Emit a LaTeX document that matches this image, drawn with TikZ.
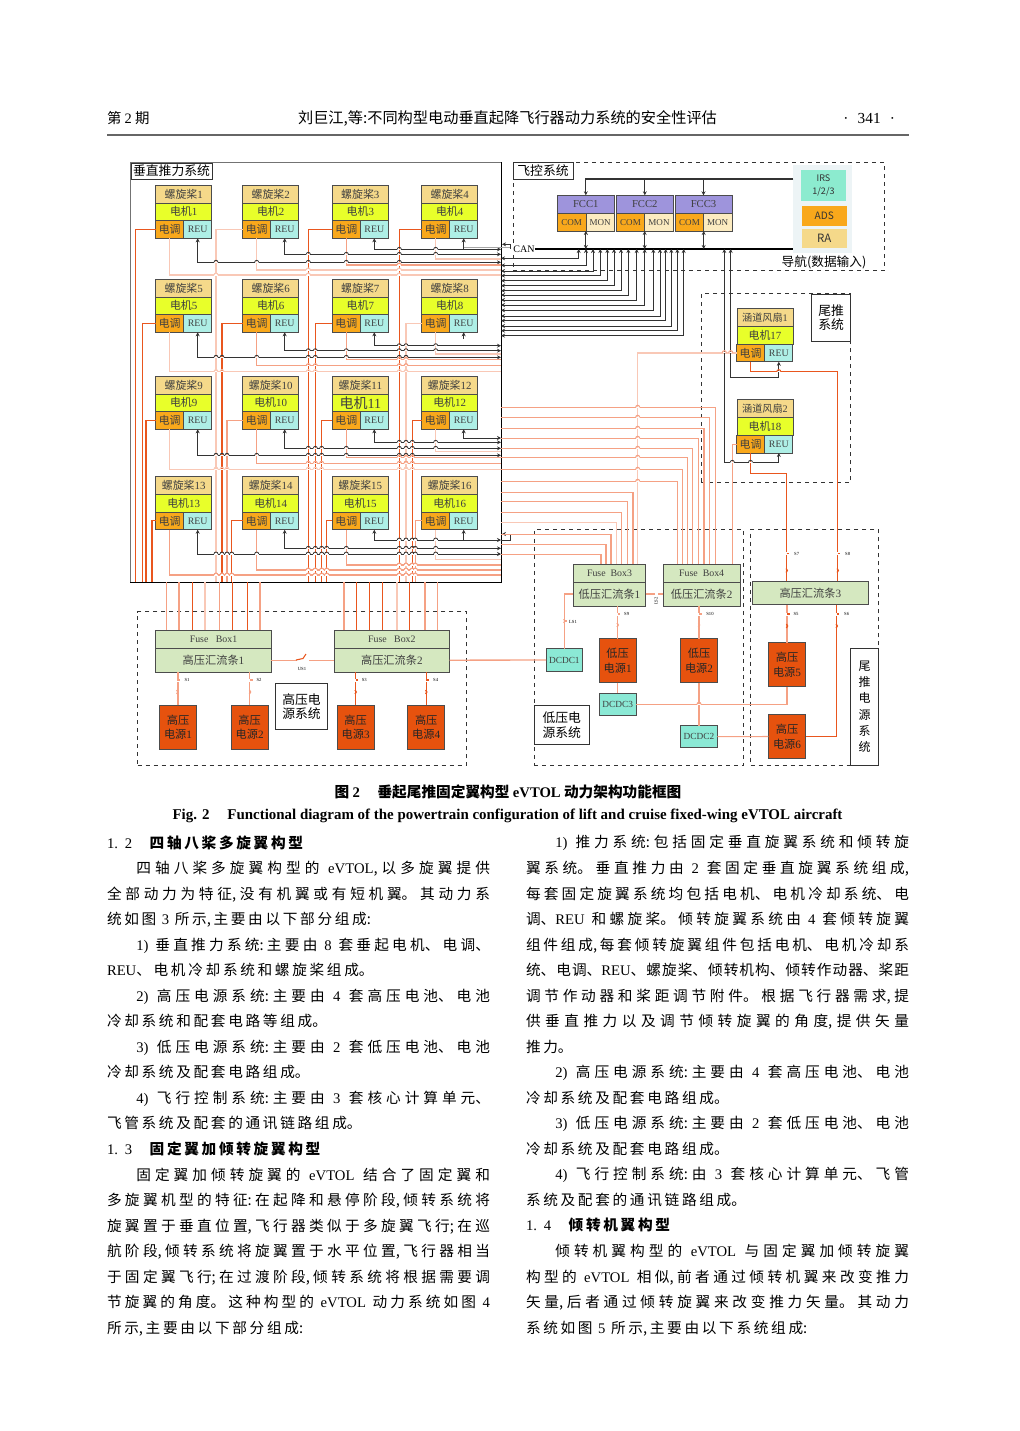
\documentclass[tikz,border=0pt]{standalone}
\usepackage{fontspec}
\setmainfont{Noto Sans CJK SC}
\newfontfamily\latinfont{Liberation Serif}
\usetikzlibrary{arrows.meta}
\XeTeXlinebreaklocale "zh"
\XeTeXlinebreakskip=0pt
\newcommand{\ltn}[1]{{\latinfont #1}}
\newcommand{\hop}[3]{\fill[white] (#1-2,#2-.7) rectangle (#1+2,#2+.7); \draw[#3] (#1-2,#2) arc[start angle=180,end angle=0,radius=1.5pt];}
\newcommand{\swmark}[4]{\fill[white] (#1-1.5,#2-1.5) rectangle (#1+1.5,#2+1.5); \draw[#4] (#1,#2)--(#1+2.5,#2); \draw[#4,line width=1pt] (#1-.6,#3-2)--(#1+.6,#3)--(#1-.6,#3+2);}
\definecolor{propcol}{HTML}{F5D98A}
\definecolor{motorcol}{HTML}{E8FF2A}
\definecolor{esccol}{HTML}{F9A81B}
\definecolor{reucol}{HTML}{AEEFE6}
\definecolor{fccol}{HTML}{9E94DC}
\definecolor{moncol}{HTML}{FCEBC0}
\definecolor{busbar}{HTML}{D5E8C0}
\definecolor{srccol}{HTML}{E6520E}
\definecolor{dcdccol}{HTML}{8BE9D5}
\definecolor{irscol}{HTML}{8CEBCF}
\definecolor{navcol}{HTML}{EDF4F6}
\definecolor{wlightcol}{HTML}{F9C8B6}
\definecolor{wsalmoncol}{HTML}{F5A184}
\definecolor{wredcol}{HTML}{E9561E}
\begin{document}
\begin{tikzpicture}[x=0.75pt,y=-0.75pt]
\tikzset{
  cell/.style={draw=black!70,line width=0.5pt,inner sep=0pt,outer sep=0pt,text=black!75,align=center,font=\fontsize{8.2}{9}\selectfont},
  propcell/.style={cell,fill=propcol,minimum width=42pt,minimum height=13.2pt},
  motorcell/.style={cell,fill=motorcol,minimum width=42pt,minimum height=13.2pt},
  esccell/.style={cell,fill=esccol,minimum width=21pt,minimum height=13.2pt},
  reucell/.style={cell,fill=reucol,minimum width=21pt,minimum height=13.2pt,font=\fontsize{7.4}{9}\latinfont},
  fcccell/.style={cell,fill=fccol,minimum width=42.75pt,minimum height=13.8pt,font=\fontsize{8}{9}\latinfont},
  comcell/.style={cell,fill=esccol,minimum width=21.3pt,minimum height=13pt,font=\fontsize{6.8}{9}\latinfont},
  moncell/.style={cell,fill=moncol,minimum width=21.3pt,minimum height=13pt,font=\fontsize{6.8}{9}\latinfont},
  fusecell/.style={cell,fill=busbar,font=\fontsize{7.4}{9}\latinfont},
  buscell/.style={cell,fill=busbar,font=\fontsize{8.4}{9}\selectfont},
  srccell/.style={cell,fill=srccol,minimum width=27.8pt,minimum height=33pt,text=black!85,font=\fontsize{8.4}{11}\selectfont},
  dcdccell/.style={cell,fill=dcdccol,minimum width=27.5pt,font=\fontsize{7}{9}\latinfont},
  navcell/.style={inner sep=0pt,outer sep=0pt,align=center,text=black!80,minimum width=33.75pt},
  sysbox/.style={draw=black!80,dashed,line width=0.5pt,inner sep=0pt,outer sep=0pt},
  syslabel/.style={draw=black!80,fill=white,line width=0.5pt,inner sep=0pt,outer sep=0pt,align=center,font=\fontsize{9.6}{11}\selectfont},
  tinylabel/.style={inner sep=0pt,font=\fontsize{3.5}{4}\latinfont},
  ctrl/.style={draw=black!80,line width=0.6pt},
  ctrlarrow/.style={ctrl,{Stealth[length=3pt,width=3pt]}-{Stealth[length=3pt,width=3pt]}},
  ctrltip/.style={ctrl,-{Stealth[length=3pt,width=3pt]}},
  wlight/.style={draw=wlightcol,line width=0.8pt},
  wsalmon/.style={draw=wsalmoncol,line width=0.8pt},
  wred/.style={draw=wredcol,line width=0.8pt},
  pagetext/.style={inner sep=0pt,outer sep=0pt},
  column/.style={pagetext,anchor=north west,text width=287.25pt,align=justify,font=\fontsize{11}{19.15}\selectfont,
    execute at begin node={\tolerance=10000\hbadness=10000\hfuzz=5pt\spaceskip=.38em plus .2em minus .2em\XeTeXlinebreakskip=2pt plus 1pt minus 2pt\relax}}
}
\useasboundingbox (0,0) rectangle (1020,1431);
% page head
\node[pagetext,anchor=west,font=\fontsize{10.8}{12}\selectfont] (n_issue) at (107,118) {第 \ltn{2} 期};
\node[pagetext,font=\fontsize{11.4}{12}\selectfont] (n_head) at (507.5,118) {刘巨江,等:不同构型电动垂直起降飞行器动力系统的安全性评估};
\node[pagetext,anchor=east,font=\fontsize{11.5}{12}\latinfont] (n_page) at (895,118) {·\hspace{.6em}341\hspace{.6em}·};
\draw[black!60,line width=0.8pt] (n_issue.west |- 0,135) -- (909,135);
% system frames
\node[draw=black,line width=0.6pt,inner sep=0pt,outer sep=0pt,minimum width=278.25pt,minimum height=315pt] (n_lift) at (315.5,372) {};
\draw[black!55,line width=0.7pt] (n_lift.south west) |- (n_lift.north east);
\node[sysbox,minimum width=246.75pt,minimum height=115.2pt] (n_hvsys) at (302.2,688.5) {};
\node[sysbox,minimum width=278.25pt,minimum height=81.5pt] (n_fcs) at (698.5,216.35) {};
\node[sysbox,minimum width=112pt,minimum height=141.75pt] (n_tail) at (776,388.2) {};
\node[sysbox,minimum width=156.75pt,minimum height=177.3pt] (n_lvsys) at (638.8,647.5) {};
\node[sysbox,minimum width=95.7pt,minimum height=177.3pt] (n_tpsys) at (814.5,647.5) {};
% rotors
\node[propcell] (n_prop1) at (183.7,194.2) {螺旋桨\ltn{1}};
\node[motorcell] (n_mot1) at (183.7,211.8) {电机\ltn{1}};
\node[esccell] (n_esc1) at (169.7,229.5) {电调};
\node[reucell] (n_reu1) at (197.7,229.5) {REU};
\node[propcell] (n_prop2) at (270.7,194.2) {螺旋桨\ltn{2}};
\node[motorcell] (n_mot2) at (270.7,211.8) {电机\ltn{2}};
\node[esccell] (n_esc2) at (256.7,229.5) {电调};
\node[reucell] (n_reu2) at (284.7,229.5) {REU};
\node[propcell] (n_prop3) at (360.3,194.2) {螺旋桨\ltn{3}};
\node[motorcell] (n_mot3) at (360.3,211.8) {电机\ltn{3}};
\node[esccell] (n_esc3) at (346.3,229.5) {电调};
\node[reucell] (n_reu3) at (374.3,229.5) {REU};
\node[propcell] (n_prop4) at (449.7,194.2) {螺旋桨\ltn{4}};
\node[motorcell] (n_mot4) at (449.7,211.8) {电机\ltn{4}};
\node[esccell] (n_esc4) at (435.7,229.5) {电调};
\node[reucell] (n_reu4) at (463.7,229.5) {REU};
\node[propcell] (n_prop5) at (183.7,288.2) {螺旋桨\ltn{5}};
\node[motorcell] (n_mot5) at (183.7,305.8) {电机\ltn{5}};
\node[esccell] (n_esc5) at (169.7,323.5) {电调};
\node[reucell] (n_reu5) at (197.7,323.5) {REU};
\node[propcell] (n_prop6) at (270.7,288.2) {螺旋桨\ltn{6}};
\node[motorcell] (n_mot6) at (270.7,305.8) {电机\ltn{6}};
\node[esccell] (n_esc6) at (256.7,323.5) {电调};
\node[reucell] (n_reu6) at (284.7,323.5) {REU};
\node[propcell] (n_prop7) at (360.3,288.2) {螺旋桨\ltn{7}};
\node[motorcell] (n_mot7) at (360.3,305.8) {电机\ltn{7}};
\node[esccell] (n_esc7) at (346.3,323.5) {电调};
\node[reucell] (n_reu7) at (374.3,323.5) {REU};
\node[propcell] (n_prop8) at (449.7,288.2) {螺旋桨\ltn{8}};
\node[motorcell] (n_mot8) at (449.7,305.8) {电机\ltn{8}};
\node[esccell] (n_esc8) at (435.7,323.5) {电调};
\node[reucell] (n_reu8) at (463.7,323.5) {REU};
\node[propcell] (n_prop9) at (183.7,385.2) {螺旋桨\ltn{9}};
\node[motorcell] (n_mot9) at (183.7,402.8) {电机\ltn{9}};
\node[esccell] (n_esc9) at (169.7,420.5) {电调};
\node[reucell] (n_reu9) at (197.7,420.5) {REU};
\node[propcell] (n_prop10) at (270.7,385.2) {螺旋桨\ltn{10}};
\node[motorcell] (n_mot10) at (270.7,402.8) {电机\ltn{10}};
\node[esccell] (n_esc10) at (256.7,420.5) {电调};
\node[reucell] (n_reu10) at (284.7,420.5) {REU};
\node[propcell] (n_prop11) at (360.3,385.2) {螺旋桨\ltn{11}};
\node[motorcell,font=\fontsize{10.5}{11}\selectfont] (n_mot11) at (360.3,402.8) {电机\ltn{11}};
\node[esccell] (n_esc11) at (346.3,420.5) {电调};
\node[reucell] (n_reu11) at (374.3,420.5) {REU};
\node[propcell] (n_prop12) at (449.7,385.2) {螺旋桨\ltn{12}};
\node[motorcell] (n_mot12) at (449.7,402.8) {电机\ltn{12}};
\node[esccell] (n_esc12) at (435.7,420.5) {电调};
\node[reucell] (n_reu12) at (463.7,420.5) {REU};
\node[propcell] (n_prop13) at (183.7,485.6) {螺旋桨\ltn{13}};
\node[motorcell] (n_mot13) at (183.7,503.2) {电机\ltn{13}};
\node[esccell] (n_esc13) at (169.7,520.9) {电调};
\node[reucell] (n_reu13) at (197.7,520.9) {REU};
\node[propcell] (n_prop14) at (270.7,485.6) {螺旋桨\ltn{14}};
\node[motorcell] (n_mot14) at (270.7,503.2) {电机\ltn{14}};
\node[esccell] (n_esc14) at (256.7,520.9) {电调};
\node[reucell] (n_reu14) at (284.7,520.9) {REU};
\node[propcell] (n_prop15) at (360.3,485.6) {螺旋桨\ltn{15}};
\node[motorcell] (n_mot15) at (360.3,503.2) {电机\ltn{15}};
\node[esccell] (n_esc15) at (346.3,520.9) {电调};
\node[reucell] (n_reu15) at (374.3,520.9) {REU};
\node[propcell] (n_prop16) at (449.7,485.6) {螺旋桨\ltn{16}};
\node[motorcell] (n_mot16) at (449.7,503.2) {电机\ltn{16}};
\node[esccell] (n_esc16) at (435.7,520.9) {电调};
\node[reucell] (n_reu16) at (463.7,520.9) {REU};
% ducted fans
\node[propcell,font=\fontsize{7.6}{9}\selectfont] (n_fan1) at (765,317.6) {涵道风扇\ltn{1}};
\node[motorcell] (n_mot17) at (765,335.3) {电机\ltn{17}};
\node[esccell] (n_esc17) at (750.5,353) {电调};
\node[reucell] (n_reu17) at (778.8,353) {REU};
\node[propcell,font=\fontsize{7.6}{9}\selectfont] (n_fan2) at (765,408.6) {涵道风扇\ltn{2}};
\node[motorcell] (n_mot18) at (765,426.3) {电机\ltn{18}};
\node[esccell] (n_esc18) at (750.5,444.2) {电调};
\node[reucell] (n_reu18) at (778.8,444.2) {REU};
% flight control
\node[fcccell] (n_fcc1) at (585.8,204.5) {FCC1};
\node[comcell] (n_com1) at (571.65,222.3) {COM};
\node[moncell] (n_mon1) at (600.15,222.3) {MON};
\node[fcccell] (n_fcc2) at (644.8,204.5) {FCC2};
\node[comcell] (n_com2) at (630.5,222.3) {COM};
\node[moncell] (n_mon2) at (659,222.3) {MON};
\node[fcccell] (n_fcc3) at (703.5,204.5) {FCC3};
\node[comcell] (n_com3) at (689.5,222.3) {COM};
\node[moncell] (n_mon3) at (717.7,222.3) {MON};
\node[inner sep=0pt,outer sep=0pt,fill=navcol,minimum width=43.8pt,minimum height=66pt] (n_nav) at (822.5,209) {};
\node[navcell,fill=irscol,minimum height=23.25pt,font=\fontsize{6.8}{10}\selectfont] (n_irs) at (823.5,185.5) {IRS\\1/2/3};
\node[navcell,fill=esccol,minimum height=15pt,font=\fontsize{7.6}{9}\selectfont] (n_ads) at (824.2,216) {ADS};
\node[navcell,fill=propcol,minimum height=14.5pt,font=\fontsize{8.6}{9}\selectfont] (n_ra) at (824.2,238.6) {RA};
\node[pagetext,font=\fontsize{9.5}{11}\selectfont] (n_navlabel) at (824,262) {导航(数据输入)};
\node[pagetext,font=\fontsize{7.5}{9}\latinfont,fill=white] (n_can) at (524,249) {CAN};
% power
\node[fusecell,minimum width=86.7pt,minimum height=13.5pt] (n_fuse1) at (213.5,639.3) {Fuse\ \ \ Box1};
\node[buscell,minimum width=86.7pt,minimum height=17.8pt] (n_hbus1) at (213.5,660.2) {高压汇流条\ltn{1}};
\node[fusecell,minimum width=86.7pt,minimum height=13.5pt] (n_fuse2) at (391.85,639.3) {Fuse\ \ \ Box2};
\node[buscell,minimum width=86.7pt,minimum height=17.8pt] (n_hbus2) at (391.85,660.2) {高压汇流条\ltn{2}};
\node[fusecell,minimum width=54.3pt,minimum height=13.3pt] (n_fuse3) at (609.5,573.2) {Fuse\ \ Box3};
\node[buscell,minimum width=54.3pt,minimum height=18pt] (n_lbus1) at (609.5,594) {低压汇流条\ltn{1}};
\node[fusecell,minimum width=57.5pt,minimum height=13.3pt] (n_fuse4) at (701.65,573.2) {Fuse\ \ Box4};
\node[buscell,minimum width=57.5pt,minimum height=18pt] (n_lbus2) at (701.65,594) {低压汇流条\ltn{2}};
\node[buscell,minimum width=87pt,minimum height=17.5pt] (n_hbus3) at (810.3,593) {高压汇流条\ltn{3}};
\node[srccell] (n_hv1) at (178,727.3) {高压\\电源\ltn{1}};
\node[srccell] (n_hv2) at (249.65,727.3) {高压\\电源\ltn{2}};
\node[srccell] (n_hv3) at (355.65,727.3) {高压\\电源\ltn{3}};
\node[srccell] (n_hv4) at (426.2,727.3) {高压\\电源\ltn{4}};
\node[srccell] (n_hv5) at (787,664.5) {高压\\电源\ltn{5}};
\node[srccell] (n_hv6) at (787,736.5) {高压\\电源\ltn{6}};
\node[srccell] (n_lv1) at (617.65,660.5) {低压\\电源\ltn{1}};
\node[srccell] (n_lv2) at (699,660.5) {低压\\电源\ltn{2}};
\node[dcdccell,minimum height=17pt] (n_dcdc1) at (564.35,660) {DCDC1};
\node[dcdccell,minimum height=16.5pt] (n_dcdc3) at (617.65,704.3) {DCDC3};
\node[dcdccell,minimum height=16.5pt] (n_dcdc2) at (699,736.7) {DCDC2};
% labels of the systems
\node[syslabel,minimum width=60.75pt,minimum height=12pt] (n_liftlabel) at (171.5,171) {垂直推力系统};
\node[syslabel,minimum width=45pt,minimum height=12.75pt] (n_fcslabel) at (543,171) {飞控系统};
\node[syslabel,minimum width=29.25pt,minimum height=35.25pt] (n_taillabel) at (831.2,317.5) {尾推\\系统};
\node[syslabel,minimum width=39.3pt,minimum height=34.8pt] (n_hvlabel) at (301.5,706.5) {高压电\\源系统};
\node[syslabel,minimum width=41.25pt,minimum height=29pt] (n_lvlabel) at (561.8,725) {低压电\\源系统};
\node[syslabel,minimum width=20.7pt,minimum height=87.5pt,font=\fontsize{9}{12.2}\selectfont] (n_tplabel) at (864.5,706.6) {尾\\推\\电\\源\\系\\统};
% rotor control lines
\draw[ctrlarrow] (n_lift.east |- 0,262.3) -| (n_reu1.south);
\draw[ctrlarrow] (n_lift.east |- 0,254.3) -| (n_reu2.south);
\draw[ctrlarrow] (n_lift.east |- 0,249.3) -| (n_reu3.south);
\draw[ctrltip] (n_reu4.south |- 0,249.3) -- (n_reu4.south);
\draw[ctrlarrow] (n_lift.east |- 0,357.3) -| (n_reu5.south);
\draw[ctrlarrow] (n_lift.east |- 0,350.7) -| (n_reu6.south);
\draw[ctrlarrow] (n_lift.east |- 0,345.7) -| (n_reu7.south);
\draw[ctrltip] (n_reu8.south |- 0,339) -- (n_reu8.south);
\draw[ctrlarrow] (n_lift.east |- 0,455.3) -| (n_reu9.south);
\draw[ctrlarrow] (n_lift.east |- 0,448.3) -| (n_reu10.south);
\draw[ctrlarrow] (n_lift.east |- 0,442.3) -| (n_reu11.south);
\draw[ctrlarrow] (n_lift.east |- 0,438) -| (n_reu12.south);
\draw[ctrlarrow] (n_lift.east |- 0,554) -| (n_reu13.south);
\draw[ctrlarrow] (n_lift.east |- 0,548.3) -| (n_reu14.south);
\draw[ctrlarrow] (n_lift.east |- 0,540) -| (n_reu15.south);
\draw[ctrltip] (n_reu16.south |- 0,540) -- (n_reu16.south);
\draw[ctrltip] (n_lift.east |- 0,540) -- (510.7,540) |- (502,534);
\draw[draw=black!35,line width=0.7pt] (n_reu4.south |- 0,247.8) -- (510,247.8);
\draw[ctrltip] (510,249) |- (502,244.3);
% rotor lines to the fuse boxes
\draw[wlight] (n_esc1.south) |- (n_lift.east |- 0,275);
\draw[wlight] (n_esc2.south) |- (n_lift.east |- 0,270);
\draw[wsalmon] (n_esc3.south) |- (n_lift.east |- 0,265);
\draw[wlight] (n_esc4.south) |- (n_lift.east |- 0,259);
\draw[wlight] (n_esc5.south) |- (n_lift.east |- 0,371.7);
\draw[wsalmon] (n_esc6.south) |- (n_lift.east |- 0,365.7);
\draw[wsalmon] (n_esc7.south) |- (n_lift.east |- 0,359.3);
\draw[wlight] (n_esc8.south) |- (n_lift.east |- 0,354);
\draw[wlight] (n_esc9.south) |- (n_lift.east |- 0,469.3);
\draw[wsalmon] (n_esc10.south) |- (n_lift.east |- 0,463.3);
\draw[wsalmon] (n_esc11.south) |- (n_lift.east |- 0,457.3);
\draw[wlight] (n_esc12.south) |- (n_lift.east |- 0,451.7);
\draw[wsalmon] (n_esc13.south) |- (n_lift.east |- 0,575);
\draw[wsalmon] (n_esc14.south) |- (n_lift.east |- 0,570);
\draw[wsalmon] (n_esc15.south) |- (n_lift.east |- 0,565);
\draw[wlight] (n_esc16.south) |- (n_lift.east |- 0,559.3);
\draw[wred] (n_esc1.west) -| (n_lift.south -| 135.7,0);
\draw[wred] (n_esc5.west) -| (n_lift.south -| 142.3,0);
\draw[wred] (n_esc9.west) -| (n_lift.south -| 146,0);
\draw[wred] (n_esc13.west) -| (n_lift.south -| 152,0);
\draw[wlight] (n_esc2.west) -| (n_lift.south -| 216,0);
\draw[wred] (n_esc6.west) -| (n_lift.south -| 222,0);
\draw[wsalmon] (n_esc10.west) -| (n_lift.south -| 227,0);
\draw[wred] (n_esc14.west) -| (n_lift.south -| 231.7,0);
\draw[wred] (n_esc3.west) -| (n_lift.south -| 308.3,0);
\draw[wred] (n_esc7.west) -| (n_lift.south -| 315.3,0);
\draw[wred] (n_esc11.west) -| (n_lift.south -| 321.7,0);
\draw[wred] (n_esc15.west) -| (n_lift.south -| 326.7,0);
\draw[wred] (n_esc4.west) -| (n_lift.south -| 399.3,0);
\draw[wlight] (n_esc8.west) -| (n_lift.south -| 406,0);
\draw[wred] (n_esc12.west) -| (n_lift.south -| 412.3,0);
\draw[wsalmon] (n_esc16.west) -| (n_lift.south -| 415.3,0);
% under the lift frame
\draw[wsalmon] (n_lift.south -| 166.3,0) -- (n_fuse1.north -| 166.3,0);
\draw[wsalmon] (n_lift.south -| 179,0) -- (n_fuse1.north -| 179,0);
\draw[wred] (n_lift.south -| 192.3,0) -- (n_fuse1.north -| 192.3,0);
\draw[wlight] (n_lift.south -| 205,0) -- (n_fuse1.north -| 205,0);
\draw[wsalmon] (n_lift.south -| 219.3,0) -- (n_fuse1.north -| 219.3,0);
\draw[wred] (n_lift.south -| 232.3,0) -- (n_fuse1.north -| 232.3,0);
\draw[wred] (n_lift.south -| 247.3,0) -- (n_fuse1.north -| 247.3,0);
\draw[wsalmon] (n_lift.south -| 260,0) -- (n_fuse1.north -| 260,0);
\draw[wsalmon] (n_lift.south -| 344,0) -- (n_fuse2.north -| 344,0);
\draw[wred] (n_lift.south -| 356.7,0) -- (n_fuse2.north -| 356.7,0);
\draw[wred] (n_lift.south -| 369.3,0) -- (n_fuse2.north -| 369.3,0);
\draw[wred] (n_lift.south -| 382.3,0) -- (n_fuse2.north -| 382.3,0);
\draw[wlight] (n_lift.south -| 397,0) -- (n_fuse2.north -| 397,0);
\draw[wred] (n_lift.south -| 409.3,0) -- (n_fuse2.north -| 409.3,0);
\draw[wsalmon] (n_lift.south -| 425,0) -- (n_fuse2.north -| 425,0);
\draw[wsalmon] (n_lift.south -| 437.7,0) -- (n_fuse2.north -| 437.7,0);
% low voltage feeds
\draw[wlight] (n_esc17.west) -| (n_fuse3.north -| 637.7,0);
\draw[wsalmon] (n_lift.east |- 0,492.3) -| (n_fuse3.north -| 633,0);
\draw[wsalmon] (n_lift.east |- 0,501.3) -| (n_fuse3.north -| 627.5,0);
\draw[wsalmon] (n_lift.east |- 0,512.7) -| (n_fuse3.north -| 621.7,0);
\draw[wlight] (n_lift.east |- 0,522.7) -| (n_fuse3.north -| 616.7,0);
\draw[wsalmon] (n_lift.east |- 0,534.3) -| (n_fuse3.north -| 611,0);
\draw[wsalmon] (n_lift.east |- 0,544.3) -| (n_fuse3.north -| 606,0);
\draw[wsalmon] (n_lift.east |- 0,554.3) -| (n_fuse3.north -| 601,0);
\draw[wsalmon] (n_lift.east |- 0,407.3) -| (n_fuse4.north -| 715.3,0);
\draw[wsalmon] (n_lift.east |- 0,417.3) -| (n_fuse4.north -| 709.3,0);
\draw[wsalmon] (n_lift.east |- 0,428.3) -| (n_fuse4.north -| 704,0);
\draw[wsalmon] (n_lift.east |- 0,438.3) -| (n_fuse4.north -| 698.3,0);
\draw[wsalmon] (n_lift.east |- 0,448.3) -| (n_fuse4.north -| 692.7,0);
\draw[wsalmon] (n_lift.east |- 0,457.3) -| (n_fuse4.north -| 687.7,0);
\draw[wsalmon] (n_lift.east |- 0,469.3) -| (n_fuse4.north -| 682.5,0);
\draw[wsalmon] (n_lift.east |- 0,481.3) -| (n_fuse4.north -| 677.7,0);
\draw[wsalmon] (n_esc18.west) -| (n_fuse4.north -| 732.3,0);
% can bus
\draw[black,line width=1.1pt] (n_can.east) -- (n_nav.west |- n_can.east);
\draw[ctrlarrow] (n_lift.east |- 0,258.3) -| (n_can.east -| 578.7,0);
\draw[ctrlarrow] (n_lift.east |- 0,265.3) -| (n_can.east -| 586,0);
\draw[ctrlarrow] (n_lift.east |- 0,271) -| (n_can.east -| 593,0);
\draw[ctrlarrow] (n_lift.east |- 0,275.7) -| (n_can.east -| 600.3,0);
\draw[ctrlarrow] (n_lift.east |- 0,280.7) -| (n_can.east -| 607.3,0);
\draw[ctrlarrow] (n_lift.east |- 0,285.7) -| (n_can.east -| 614,0);
\draw[ctrlarrow] (n_lift.east |- 0,290.7) -| (n_can.east -| 621,0);
\draw[ctrlarrow] (n_lift.east |- 0,295) -| (n_can.east -| 628.3,0);
\draw[ctrlarrow] (n_lift.east |- 0,300) -| (n_can.east -| 636.7,0);
\draw[ctrlarrow] (n_lift.east |- 0,305) -| (n_can.east -| 644.7,0);
\draw[ctrlarrow] (n_lift.east |- 0,310.3) -| (n_can.east -| 653.3,0);
\draw[ctrlarrow] (n_lift.east |- 0,316) -| (n_can.east -| 660,0);
\draw[ctrlarrow] (n_lift.east |- 0,320.7) -| (n_can.east -| 665.7,0);
\draw[ctrlarrow] (n_lift.east |- 0,326) -| (n_can.east -| 671.3,0);
\draw[ctrlarrow] (n_lift.east |- 0,330.7) -| (n_can.east -| 677.3,0);
\draw[ctrlarrow] (n_lift.east |- 0,335.7) -| (n_can.east -| 683.7,0);
\draw[ctrlarrow] (n_com1.south east) -- (n_com1.south east |- n_can.east);
\draw[ctrlarrow] (n_com2.south east) -- (n_com2.south east |- n_can.east);
\draw[ctrlarrow] (n_com3.south east) -- (n_com3.south east |- n_can.east);
\draw[ctrltip,line width=0.8pt] (n_nav.west |- 0,179) -| (n_fcc1.north);
\draw[ctrltip,line width=0.8pt] (n_fcc2.north |- 0,179) -- (n_fcc2.north);
\draw[ctrltip,line width=0.8pt] (n_fcc3.north |- 0,179) -- (n_fcc3.north);
% fan lines
\draw[ctrlarrow] (n_can.east -| 730.7,0) |- (n_reu17.south |- 0,377.3) -- (n_reu17.south);
\draw[ctrlarrow] (n_can.east -| 724.3,0) |- (n_reu18.south |- 0,462.3) -- (n_reu18.south);
\draw[wred] (n_esc17.south) |- (837.7,371.7) -- (n_hbus3.north -| 837.7,0);
\draw[wred] (n_esc18.south) |- (786.7,473.3) -- (n_hbus3.north -| 786.7,0);
% power connections
\draw[wsalmon] (n_hbus1.east) -- (n_hbus2.west);
\draw[wsalmon,line width=1pt] (n_hbus2.east) -- (n_dcdc1.west);
\draw[wsalmon] (n_lbus1.east) -- (n_lbus2.west);
\draw[wsalmon] (n_dcdc1.north) |- (n_lbus1.west);
\draw[wsalmon] (n_hv1.north) -- (n_hv1.north |- n_hbus1.south);
\draw[wsalmon] (n_hv2.north) -- (n_hv2.north |- n_hbus1.south);
\draw[wred] (n_hv3.north) -- (n_hv3.north |- n_hbus2.south);
\draw[wred] (n_hv4.north) -- (n_hv4.north |- n_hbus2.south);
\draw[wsalmon] (n_hv5.north) -- (n_hv5.north |- n_hbus3.south);
\draw[wred] (n_hbus3.south -| 836.7,0) |- (n_hv6.east);
\draw[wsalmon] (n_lv1.north) -- (n_lv1.north |- n_lbus1.south);
\draw[wsalmon] (n_lv2.north) -- (n_lv2.north |- n_lbus2.south);
\draw[wsalmon] (n_lv1.south) -- (n_dcdc3.north);
\draw[wsalmon] (n_lv2.south) -- (n_dcdc2.north);
\draw[wsalmon] (n_dcdc3.east) -| (n_hv5.south);
\draw[wsalmon] (n_dcdc2.east) -- (n_hv6.west);
% crossings
\foreach \x in {399.3,435.7} {\hop{\x}{249.3}{ctrl}}
\foreach \x in {308.3,346.3,399.3,435.7} {\hop{\x}{254.3}{ctrl}}
\foreach \x in {216,256.7,308.3,346.3,399.3} {\hop{\x}{262.3}{ctrl}}
\foreach \x in {399.3} {\hop{\x}{265}{wsalmon}}
\foreach \x in {308.3,399.3} {\hop{\x}{270}{wlight}}
\foreach \x in {216,308.3,399.3} {\hop{\x}{275}{wlight}}
\foreach \x in {399.3,406,435.7} {\hop{\x}{345.7}{ctrl}}
\foreach \x in {308.3,315.3,346.3,399.3,406,435.7} {\hop{\x}{350.7}{ctrl}}
\foreach \x in {216,222,256.7,308.3,315.3,346.3,399.3,406} {\hop{\x}{357.3}{ctrl}}
\foreach \x in {399.3,406} {\hop{\x}{359.3}{wsalmon}}
\foreach \x in {308.3,315.3,399.3,406} {\hop{\x}{365.7}{wsalmon}}
\foreach \x in {216,222,308.3,315.3,399.3,406} {\hop{\x}{371.7}{wlight}}
\foreach \x in {399.3,406,412.3,435.7} {\hop{\x}{442.3}{ctrl}}
\foreach \x in {308.3,315.3,321.7,346.3,399.3,406,412.3,435.7} {\hop{\x}{448.3}{ctrl}}
\foreach \x in {216,222,227,256.7,308.3,315.3,321.7,346.3,399.3,406,412.3} {\hop{\x}{455.3}{ctrl}}
\foreach \x in {399.3,406,412.3} {\hop{\x}{457.3}{wsalmon}}
\foreach \x in {308.3,315.3,321.7,399.3,406,412.3} {\hop{\x}{463.3}{wsalmon}}
\foreach \x in {216,222,227,308.3,315.3,321.7,399.3,406,412.3} {\hop{\x}{469.3}{wlight}}
\foreach \x in {399.3,406,412.3,415.3,435.7} {\hop{\x}{540}{ctrl}}
\foreach \x in {308.3,315.3,321.7,326.7,346.3,399.3,406,412.3,415.3,435.7} {\hop{\x}{548.3}{ctrl}}
\foreach \x in {216,222,227,231.7,256.7,308.3,315.3,321.7,326.7,346.3,399.3,406,412.3,415.3,435.7} {\hop{\x}{554}{ctrl}}
\foreach \x in {399.3,406,412.3,415.3} {\hop{\x}{565}{wsalmon}}
\foreach \x in {308.3,315.3,321.7,326.7,399.3,406,412.3,415.3} {\hop{\x}{570}{wsalmon}}
\foreach \x in {216,222,227,231.7,308.3,315.3,321.7,326.7,399.3,406,412.3,415.3} {\hop{\x}{575}{wsalmon}}
\foreach \y in {407.3,417.3,428.3,438.3,448.3,457.3,469.3,481.3} {\hop{637.7}{\y}{wsalmon}}
\foreach \x in {724.3,730.7} {\hop{\x}{352.7}{wsalmon}}
\foreach \x in {732.3,750.5} {\hop{\x}{462.3}{ctrl}}
\hop{778.8}{371.7}{wred}
\hop{699}{704.3}{wsalmon}
% switches
\swmark{177.3}{680}{692}{wsalmon}
\swmark{250}{680}{692}{wsalmon}
\swmark{355.65}{680}{692}{wred}
\swmark{426.2}{680}{692}{wred}
\swmark{786.7}{553.5}{570.5}{wred}
\swmark{837.7}{553.5}{570.5}{wred}
\swmark{787}{614}{626}{wred}
\swmark{836.7}{614}{626}{wred}
\swmark{617.65}{614}{625}{wsalmon}
\swmark{699}{614}{625}{wsalmon}
\swmark{564.35}{621}{621}{wsalmon}
\fill[white] (297,658.5) rectangle (309,661.5);
\draw[wred] (296,660) -- (303,658.5) -- (306,654);
\fill[white] (654.5,592.5) rectangle (657.5,595.5);
\node[tinylabel] (n_s1) at (187,680) {S1};
\node[tinylabel] (n_s2) at (259,680) {S2};
\node[tinylabel] (n_s3) at (364.3,680) {S3};
\node[tinylabel] (n_s4) at (435.7,680) {S4};
\node[tinylabel] (n_s5) at (796,614) {S5};
\node[tinylabel] (n_s6) at (846.7,614) {S6};
\node[tinylabel] (n_s7) at (796.7,554) {S7};
\node[tinylabel] (n_s8) at (847.7,554) {S8};
\node[tinylabel] (n_s9) at (626.7,614) {S9};
\node[tinylabel] (n_s10) at (710,614) {S10};
\node[tinylabel] (n_us1) at (302,669) {US1};
\node[tinylabel] (n_ls1) at (573,621.7) {LS1};
\node[tinylabel,rotate=90] (n_ls2) at (656,601) {LS2};
% captions
\node[pagetext,font=\fontsize{11}{12}\bfseries] (n_capcn) at (508,792) {图 \ltn{2}\hspace{1.2em}垂起尾推固定翼构型 \ltn{eVTOL} 动力架构功能框图};
\node[pagetext,font=\fontsize{11.2}{12}\latinfont\bfseries] (n_capen) at (507.5,816) {Fig. 2\hspace{1.2em}Functional diagram of the powertrain configuration of lift and cruise fixed-wing eVTOL aircraft};
% columns of text
\node[column] (n_leftcol) at (107,835.5) {%
\ltn{1. 2}\hspace{1.2em}{\bfseries 四轴八桨多旋翼构型}\\
\hspace*{2em}四轴八桨多旋翼构型的 \ltn{eVTOL},以多旋翼提供\linebreak
全部动力为特征,没有机翼或有短机翼。其动力系\linebreak
统如图 \ltn{3} 所示,主要由以下部分组成:\\
\hspace*{2em}\ltn{1)} 垂直推力系统:主要由 \ltn{8} 套垂起电机、电调、\linebreak
\ltn{REU}、电机冷却系统和螺旋桨组成。\\
\hspace*{2em}\ltn{2)} 高压电源系统:主要由 \ltn{4} 套高压电池、电池\linebreak
冷却系统和配套电路等组成。\\
\hspace*{2em}\ltn{3)} 低压电源系统:主要由 \ltn{2} 套低压电池、电池\linebreak
冷却系统及配套电路组成。\\
\hspace*{2em}\ltn{4)} 飞行控制系统:主要由 \ltn{3} 套核心计算单元、\linebreak
飞管系统及配套的通讯链路组成。\\
\ltn{1. 3}\hspace{1.2em}{\bfseries 固定翼加倾转旋翼构型}\\
\hspace*{2em}固定翼加倾转旋翼的 \ltn{eVTOL} 结合了固定翼和\linebreak
多旋翼机型的特征:在起降和悬停阶段,倾转系统将\linebreak
旋翼置于垂直位置,飞行器类似于多旋翼飞行;在巡\linebreak
航阶段,倾转系统将旋翼置于水平位置,飞行器相当\linebreak
于固定翼飞行;在过渡阶段,倾转系统将根据需要调\linebreak
节旋翼的角度。这种构型的 \ltn{eVTOL} 动力系统如图 \ltn{4}\linebreak
所示,主要由以下部分组成:};
\node[column] (n_rightcol) at (526,835.5) {%
\hspace*{2em}\ltn{1)} 推力系统:包括固定垂直旋翼系统和倾转旋\linebreak
翼系统。垂直推力由 \ltn{2} 套固定垂直旋翼系统组成,\linebreak
每套固定旋翼系统均包括电机、电机冷却系统、电\linebreak
调、\ltn{REU} 和螺旋桨。倾转旋翼系统由 \ltn{4} 套倾转旋翼\linebreak
组件组成,每套倾转旋翼组件包括电机、电机冷却系\linebreak
统、电调、\ltn{REU}、螺旋桨、倾转机构、倾转作动器、桨距\linebreak
调节作动器和桨距调节附件。根据飞行器需求,提\linebreak
供垂直推力以及调节倾转旋翼的角度,提供矢量\linebreak
推力。\\
\hspace*{2em}\ltn{2)} 高压电源系统:主要由 \ltn{4} 套高压电池、电池\linebreak
冷却系统及配套电路组成。\\
\hspace*{2em}\ltn{3)} 低压电源系统:主要由 \ltn{2} 套低压电池、电池\linebreak
冷却系统及配套电路组成。\\
\hspace*{2em}\ltn{4)} 飞行控制系统:由 \ltn{3} 套核心计算单元、飞管\linebreak
系统及配套的通讯链路组成。\\
\ltn{1. 4}\hspace{1.2em}{\bfseries 倾转机翼构型}\\
\hspace*{2em}倾转机翼构型的 \ltn{eVTOL} 与固定翼加倾转旋翼\linebreak
构型的 \ltn{eVTOL} 相似,前者通过倾转机翼来改变推力\linebreak
矢量,后者通过倾转旋翼来改变推力矢量。其动力\linebreak
系统如图 \ltn{5} 所示,主要由以下系统组成:};
\end{tikzpicture}
\end{document}
